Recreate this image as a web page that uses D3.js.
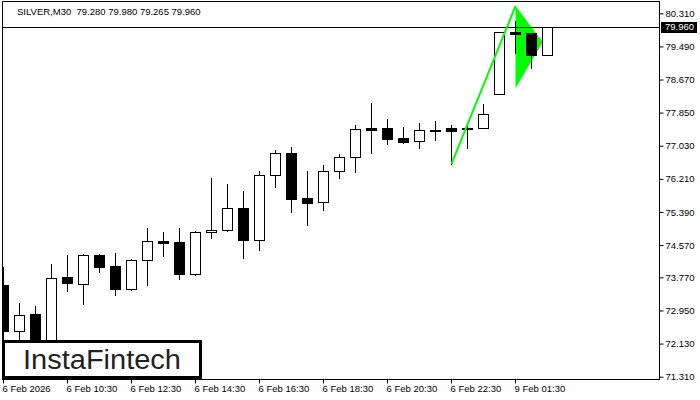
<!DOCTYPE html>
<html>
<head>
<meta charset="utf-8">
<script src="https://cdn.jsdelivr.net/npm/d3@7"></script>
<style>
  body { margin: 0; background: #fff; }
  text { font-family: 'Liberation Sans', Arial, sans-serif; }
</style>
</head>
<body>
<script>
// 30 min bars, 6 Feb 08:30 .. 9 Feb 02:30
var opens  = [73.581, 72.442, 72.863, 71.922, 73.779, 73.606, 74.324, 74.052, 73.482, 74.200,
              74.671, 74.646, 73.854, 74.894, 74.943, 75.488, 74.695, 76.305, 76.850, 75.736,
              75.637, 76.404, 76.751, 77.469, 77.469, 77.222, 77.147, 77.420, 77.457, 77.469,
              77.469, 78.311, 79.847, 79.822, 79.280];
var highs  = [74.027, 73.135, 73.061, 74.101, 74.324, 74.349, 74.349, 74.374, 74.225, 74.993,
              74.894, 74.993, 74.919, 76.231, 76.082, 75.909, 76.404, 76.924, 76.999, 76.404,
              76.553, 76.825, 77.544, 78.088, 77.692, 77.494, 77.593, 77.643, 77.544, 77.544,
              78.063, 79.847, 80.127, 79.830, 79.980];
var lows   = [72.021, 72.095, 71.773, 71.823, 73.432, 73.110, 73.903, 73.333, 73.457, 73.581,
              74.299, 73.730, 73.829, 74.745, 74.918, 74.250, 74.448, 76.008, 75.389, 75.067,
              75.439, 76.231, 76.380, 76.850, 77.073, 77.098, 76.974, 77.172, 76.578, 76.974,
              77.469, 78.311, 79.319, 78.963, 79.265];
var closes = [72.442, 72.838, 71.922, 73.754, 73.631, 74.324, 74.027, 73.482, 74.200, 74.671,
              74.621, 73.854, 74.894, 74.943, 75.488, 74.695, 76.305, 76.850, 75.711, 75.612,
              76.404, 76.751, 77.445, 77.420, 77.197, 77.123, 77.420, 77.402, 77.407, 77.437,
              77.816, 79.847, 79.790, 79.270, 79.960];

var priceTicks = [80.310, 79.490, 78.670, 77.850, 77.030, 76.210, 75.390, 74.570, 73.770, 72.950, 72.130, 71.310];
var timeTickBars = [0, 4, 8, 12, 16, 20, 24, 28, 32];
var timeTickLabels = ['6 Feb 2026', '6 Feb 10:30', '6 Feb 12:30', '6 Feb 14:30', '6 Feb 16:30',
                      '6 Feb 18:30', '6 Feb 20:30', '6 Feb 22:30', '9 Feb 01:30'];

var bidPrice = 79.960;
var header = 'SILVER,M30  79.280 79.980 79.265 79.960';

// bullish pennant
var poleBars = [28, 32];
var polePrices = [76.578, 80.491];
var pennantBars = [32, 32, 33.7];
var pennantPrices = [80.491, 78.453, 79.599];

var width = 700, height = 400;
var plot = { left: 2, top: 2, right: 659, bottom: 379 };

var svg = d3.select('body').append('svg')
  .attr('width', width)
  .attr('height', height);

var xScale = d3.scaleLinear().domain([0, 41]).range([3.5, 659.5]);
var yScale = d3.scaleLinear().domain([71.31, 80.31]).range([376.7, 13.3]);

var data = opens.map(function(o, i) {
  return { i: i, o: o, h: highs[i], l: lows[i], c: closes[i] };
});

svg.append('clipPath').attr('id', 'plotclip')
  .append('rect')
  .attr('x', plot.left + 1).attr('y', plot.top)
  .attr('width', plot.right - plot.left - 1).attr('height', plot.bottom - plot.top);

// frame
svg.append('path')
  .attr('d', `M${plot.left + 0.5},${plot.bottom} V${plot.top - 0.5} H${plot.right}`)
  .attr('fill', 'none')
  .attr('stroke', '#000');

var g = svg.append('g').attr('clip-path', 'url(#plotclip)');

// pennant body
g.append('path')
  .datum(pennantBars.map(function(b, k) { return [b, pennantPrices[k]]; }))
  .attr('fill', '#00ff00')
  .attr('d', d3.line()
    .x(function(d) { return xScale(d[0]); })
    .y(function(d) { return yScale(d[1]); }));

// bid line
g.append('line')
  .attr('x1', plot.left).attr('x2', plot.right)
  .attr('y1', Math.round(yScale(bidPrice)) + 0.5)
  .attr('y2', Math.round(yScale(bidPrice)) + 0.5)
  .attr('stroke', '#000');

// candles
var candle = g.selectAll('.candle')
  .data(data)
  .enter().append('g')
  .attr('class', 'candle');

candle.append('line')
  .attr('x1', function(d) { return xScale(d.i); })
  .attr('x2', function(d) { return xScale(d.i); })
  .attr('y1', function(d) { return Math.round(yScale(d.h)); })
  .attr('y2', function(d) { return Math.round(yScale(d.l)) + 1; })
  .attr('stroke', '#000');

candle.append('rect')
  .attr('x', function(d) { return xScale(d.i) - 5; })
  .attr('width', 10)
  .attr('y', function(d) { return Math.round(yScale(Math.max(d.o, d.c))) + 0.5; })
  .attr('height', function(d) {
    var h = Math.round(yScale(Math.min(d.o, d.c))) - Math.round(yScale(Math.max(d.o, d.c)));
    return Math.max(h, 1);
  })
  .attr('fill', function(d) { return d.c >= d.o ? '#fff' : '#000'; })
  .attr('stroke', '#000');

// flagpole
g.append('path')
  .datum(poleBars.map(function(b, k) { return [b, polePrices[k]]; }))
  .attr('fill', 'none')
  .attr('stroke', '#00ff00')
  .attr('stroke-width', 2)
  .attr('d', d3.line()
    .x(function(d) { return xScale(d[0]); })
    .y(function(d) { return yScale(d[1]); }));

// right axis
var yAxis = d3.axisRight(yScale)
  .tickValues(priceTicks)
  .tickFormat(d3.format('.3f'))
  .tickSize(4)
  .tickPadding(2);

var ya = svg.append('g')
  .attr('transform', `translate(${plot.right + 0.5}, 0)`)
  .call(yAxis);
ya.select('.domain').attr('d', `M0,${plot.top - 1}V${plot.bottom + 0.5}`);
ya.selectAll('.tick line').attr('stroke', '#000');
ya.selectAll('.tick text')
  .attr('font-size', '9.5px')
  .attr('font-family', 'Liberation Sans, Arial, sans-serif')
  .attr('fill', '#000');

// bottom axis
var xa = svg.append('g')
  .attr('transform', `translate(0, ${plot.bottom + 0.5})`);
xa.append('line')
  .attr('x1', plot.left).attr('x2', plot.right + 1)
  .attr('stroke', '#000');
var xt = xa.selectAll('.xtick')
  .data(timeTickBars)
  .enter().append('g')
  .attr('class', 'xtick')
  .attr('transform', function(d) { return `translate(${xScale(d)}, 0)`; });
xt.append('line').attr('y2', 4).attr('stroke', '#000');
xt.append('text')
  .attr('x', -1)
  .attr('y', 12)
  .attr('font-size', '9.5px')
  .attr('fill', '#000')
  .text(function(d, k) { return timeTickLabels[k]; });

// bid label
var by = yScale(bidPrice);
svg.append('rect')
  .attr('x', 661).attr('y', Math.round(by) - 5)
  .attr('width', 36).attr('height', 11)
  .attr('fill', '#000');
svg.append('text')
  .attr('x', 665).attr('y', by)
  .attr('dy', '0.32em')
  .attr('font-size', '9.5px')
  .attr('fill', '#fff')
  .text(d3.format('.3f')(bidPrice));

// header
svg.append('text')
  .attr('x', 17).attr('y', 15)
  .attr('font-size', '9.5px')
  .attr('fill', '#000')
  .style('white-space', 'pre')
  .text(header);

// logo
svg.append('rect')
  .attr('x', 3.5).attr('y', 341.5)
  .attr('width', 197).attr('height', 36)
  .attr('fill', '#fff')
  .attr('stroke', '#000')
  .attr('stroke-width', 3);
svg.append('text')
  .attr('x', 23).attr('y', 369)
  .attr('font-family', 'Lato, sans-serif')
  .attr('font-size', '27px')
  .attr('fill', '#222')
  .attr('textLength', 158)
  .attr('lengthAdjust', 'spacingAndGlyphs')
  .text('InstaFintech');
</script>
</body>
</html>
